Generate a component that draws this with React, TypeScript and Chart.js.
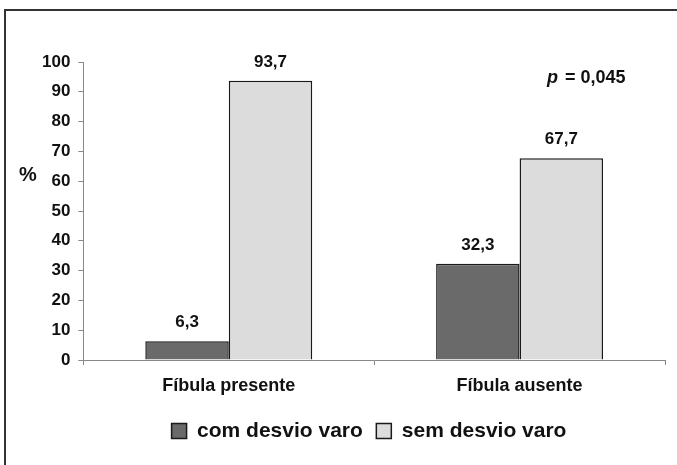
import React, { useEffect, useRef } from "react";
import { Chart, registerables } from "chart.js";

Chart.register(...registerables);

const categories = ["Fíbula presente", "Fíbula ausente"];
const seriesNames = ["com desvio varo", "sem desvio varo"];
const comDesvio = [6.3, 32.3];
const semDesvio = [93.7, 67.7];
const valueLabels = [["6,3", "32,3"], ["93,7", "67,7"]];
const yTicks = [0, 10, 20, 30, 40, 50, 60, 70, 80, 90, 100];
const pText = "= 0,045";

const FONT = "'Liberation Sans', Arial, sans-serif";

const overlayPlugin = {
  id: "overlay",
  afterLayout(chart: any) {
    const lg = chart.legend;
    if (lg) {
      const dx = 369 - (lg.left + lg.right) / 2;
      lg.left += dx;
      lg.right += dx;
    }
  },
  afterDatasetsDraw(chart: any) {
    const ctx = chart.ctx;
    ctx.save();
    ctx.fillStyle = "#111";
    ctx.textAlign = "center";
    ctx.textBaseline = "alphabetic";
    ctx.font = `bold 17px ${FONT}`;
    chart.data.datasets.forEach((ds: any, di: number) => {
      const meta = chart.getDatasetMeta(di);
      meta.data.forEach((bar: any, i: number) => {
        ctx.fillText(valueLabels[di][i], bar.x, bar.y - 14);
      });
    });
    ctx.font = `bold 20px ${FONT}`;
    ctx.textBaseline = "middle";
    ctx.fillText("%", 28, 175);
    ctx.textAlign = "left";
    ctx.textBaseline = "alphabetic";
    ctx.font = `italic bold 18px ${FONT}`;
    ctx.fillText("p", 547, 83);
    const pw = ctx.measureText("p").width;
    ctx.font = `bold 18px ${FONT}`;
    ctx.fillText(" " + pText, 547 + pw + 2, 83);
    ctx.restore();
  },
};

export default function App() {
  const ref = useRef<HTMLCanvasElement>(null);
  useEffect(() => {
    document.body.style.margin = "0";
    const chart = new Chart(ref.current!, {
      type: "bar",
      data: {
        labels: categories,
        datasets: [
          {
            label: seriesNames[0],
            data: comDesvio,
            backgroundColor: "#6a6a6a",
            borderColor: "#1a1a1a",
            borderWidth: 1.5,
            barPercentage: 1,
            categoryPercentage: 0.574,
          },
          {
            label: seriesNames[1],
            data: semDesvio,
            backgroundColor: "#dcdcdc",
            borderColor: "#1a1a1a",
            borderWidth: 1.5,
            barPercentage: 1,
            categoryPercentage: 0.574,
          },
        ],
      },
      options: {
        animation: false,
        responsive: false,
        devicePixelRatio: 1,
        layout: { padding: { left: 34, right: 12, top: 62, bottom: 13.5 } },
        plugins: {
          tooltip: { enabled: false },
          legend: {
            position: "bottom",
            labels: {
              font: { family: FONT, size: 21, weight: "bold" },
              color: "#111",
              boxWidth: 15,
              boxHeight: 15,
              padding: 13.5,
            },
          },
        },
        scales: {
          x: {
            grid: {
              drawOnChartArea: false,
              drawTicks: true,
              tickLength: 5,
              color: "#888",
              offset: true,
            },
            border: { color: "#888", width: 1 },
            ticks: {
              font: { family: FONT, size: 18, weight: "bold" },
              color: "#111",
              padding: 10,
            },
            afterFit: (s: any) => {
              s.height = 47;
            },
          },
          y: {
            min: yTicks[0],
            max: yTicks[yTicks.length - 1],
            grid: {
              drawOnChartArea: false,
              drawTicks: true,
              tickLength: 5,
              color: "#888",
            },
            border: { color: "#888", width: 1 },
            ticks: {
              stepSize: yTicks[1] - yTicks[0],
              autoSkip: false,
              font: { family: FONT, size: 17, weight: "bold" },
              color: "#111",
              padding: 8,
            },
          },
        },
      },
      plugins: [overlayPlugin],
    });
    return () => chart.destroy();
  }, []);
  return (
    <div style={{ position: "relative", width: 677, height: 465, overflow: "hidden", background: "#fff" }}>
      <div
        style={{
          position: "absolute",
          left: 4,
          top: 9,
          width: 720,
          height: 520,
          borderTop: "2px solid #333",
          borderLeft: "2px solid #333",
          boxSizing: "border-box",
        }}
      />
      <canvas ref={ref} width={677} height={465} style={{ position: "absolute", left: 0, top: 0 }} />
    </div>
  );
}
